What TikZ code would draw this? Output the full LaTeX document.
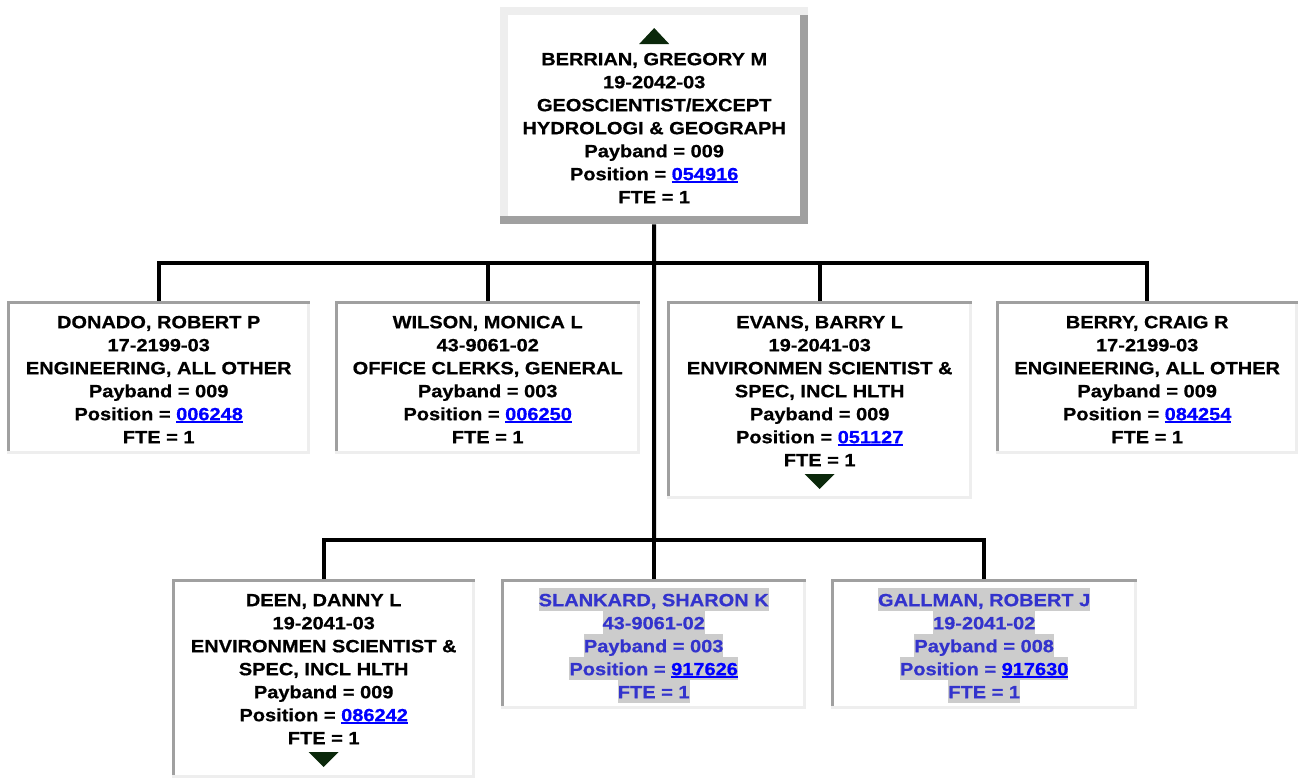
\documentclass[tikz,border=0pt]{standalone}
\usepackage{fontspec}
\setmainfont[FakeStretch=1.13,BoldFeatures={FakeBold=0.7}]{Liberation Sans}
\usetikzlibrary{calc}
\definecolor{bdark}{RGB}{160,160,160}
\definecolor{blight}{RGB}{238,238,238}
\definecolor{linkblue}{RGB}{0,0,255}
\definecolor{hlblue}{RGB}{51,51,204}
\definecolor{hlgray}{RGB}{204,204,204}
\definecolor{tridark}{RGB}{11,40,11}
\setlength{\fboxsep}{0pt}
\newcommand\sL{\rule[-5pt]{0pt}{23pt}}
\newcommand\hL[1]{\colorbox{hlgray}{\sL #1}}
\newcommand\plink[1]{{\color{linkblue}\setbox0=\hbox{#1}\rlap{\rule[-2.8pt]{\wd0}{2.2pt}}\box0}}
\newcommand\sunkborder[1]{%
  \fill[bdark] (#1.north west) rectangle ($(#1.north east)+(0,3)$);
  \fill[bdark] (#1.north west) rectangle ($(#1.south west)+(3,-3)$);
  \fill[blight] ($(#1.north east)+(-3,3)$) rectangle (#1.south east);
  \fill[blight] ($(#1.south west)+(0,-3)$) rectangle (#1.south east);
}
\tikzset{
  conn/.style={line width=4pt, draw=black},
  orgbox/.style={rectangle, fill=white, inner sep=0pt, anchor=north west},
  txt/.style={align=center, inner sep=0pt, anchor=north, text=black,
    font=\bfseries\fontsize{17.7}{23}\selectfont},
  hltxt/.style={txt, text=hlblue},
  tri/.style={fill=tridark},
}
\begin{document}
\begin{tikzpicture}[x=1pt,y=-1pt]
\useasboundingbox[fill=white] (0,0) rectangle (1299,782);

% boxes
\node[orgbox, minimum width=308pt, minimum height=217pt] (top) at (500,7) {};
\node[orgbox, minimum width=303pt, minimum height=153pt] (donado) at (7,301) {};
\node[orgbox, minimum width=305pt, minimum height=153pt] (wilson) at (335,301) {};
\node[orgbox, minimum width=305pt, minimum height=198pt] (evans) at (667,301) {};
\node[orgbox, minimum width=302pt, minimum height=153pt] (berry) at (996,301) {};
\node[orgbox, minimum width=303pt, minimum height=199pt] (deen) at (172,579) {};
\node[orgbox, minimum width=305pt, minimum height=130pt] (slankard) at (501,579) {};
\node[orgbox, minimum width=306pt, minimum height=130pt] (gallman) at (831,579) {};

\coordinate (bus1) at (654,263);
\coordinate (bus2) at (654,540);

% connectors
\draw[conn] (top.south) -- (bus2);
\draw[conn] (donado.north) -- (donado.north |- bus1) -- (berry.north |- bus1) -- (berry.north);
\draw[conn] (wilson.north) -- (wilson.north |- bus1);
\draw[conn] (evans.north) -- (evans.north |- bus1);
\draw[conn] (deen.north) -- (deen.north |- bus2) -- (gallman.north |- bus2) -- (gallman.north);
\draw[conn] (slankard.north) -- (slankard.north |- bus2);

% raised top border
\fill[blight] (top.north west) rectangle ($(top.north east)+(0,8)$);
\fill[blight] (top.north west) rectangle ($(top.south west)+(8,-8)$);
\fill[bdark] ($(top.north east)+(-8,8)$) rectangle (top.south east);
\fill[bdark] ($(top.south west)+(0,-8)$) rectangle (top.south east);

% sunken borders
\sunkborder{donado}
\sunkborder{wilson}
\sunkborder{evans}
\sunkborder{berry}
\sunkborder{deen}
\sunkborder{slankard}
\sunkborder{gallman}

% triangles
\fill[tri] ($(top.north)+(-15,37)$) -- ($(top.north)+(15,37)$) -- ($(top.north)+(0,21)$) -- cycle;
\fill[tri] ($(evans.north)+(-15,173)$) -- ($(evans.north)+(15,173)$) -- ($(evans.north)+(0,188)$) -- cycle;
\fill[tri] ($(deen.north)+(-15,173)$) -- ($(deen.north)+(15,173)$) -- ($(deen.north)+(0,188)$) -- cycle;

% texts
\node[txt] (topt) at ($(top.north)+(0,40)$) {\sL BERRIAN, GREGORY M\\\sL 19-2042-03\\\sL GEOSCIENTIST/EXCEPT\\\sL HYDROLOGI \& GEOGRAPH\\\sL Payband = 009\\\sL Position = \plink{054916}\\\sL FTE = 1};
\node[txt] (donadot) at ($(donado.north)+(0,9)$) {\sL DONADO, ROBERT P\\\sL 17-2199-03\\\sL ENGINEERING, ALL OTHER\\\sL Payband = 009\\\sL Position = \plink{006248}\\\sL FTE = 1};
\node[txt] (wilsont) at ($(wilson.north)+(0,9)$) {\sL WILSON, MONICA L\\\sL 43-9061-02\\\sL OFFICE CLERKS, GENERAL\\\sL Payband = 003\\\sL Position = \plink{006250}\\\sL FTE = 1};
\node[txt] (evanst) at ($(evans.north)+(0,9)$) {\sL EVANS, BARRY L\\\sL 19-2041-03\\\sL ENVIRONMEN SCIENTIST \&\\\sL SPEC, INCL HLTH\\\sL Payband = 009\\\sL Position = \plink{051127}\\\sL FTE = 1};
\node[txt] (berryt) at ($(berry.north)+(0,9)$) {\sL BERRY, CRAIG R\\\sL 17-2199-03\\\sL ENGINEERING, ALL OTHER\\\sL Payband = 009\\\sL Position = \plink{084254}\\\sL FTE = 1};
\node[txt] (deent) at ($(deen.north)+(0,9)$) {\sL DEEN, DANNY L\\\sL 19-2041-03\\\sL ENVIRONMEN SCIENTIST \&\\\sL SPEC, INCL HLTH\\\sL Payband = 009\\\sL Position = \plink{086242}\\\sL FTE = 1};
\node[hltxt] (slankardt) at ($(slankard.north)+(0,9)$) {\hL{SLANKARD, SHARON K}\\\hL{43-9061-02}\\\hL{Payband = 003}\\\hL{Position = \plink{917626}}\\\hL{FTE = 1}};
\node[hltxt] (gallmant) at ($(gallman.north)+(0,9)$) {\hL{GALLMAN, ROBERT J}\\\hL{19-2041-02}\\\hL{Payband = 008}\\\hL{Position = \plink{917630}}\\\hL{FTE = 1}};
\end{tikzpicture}
\end{document}
